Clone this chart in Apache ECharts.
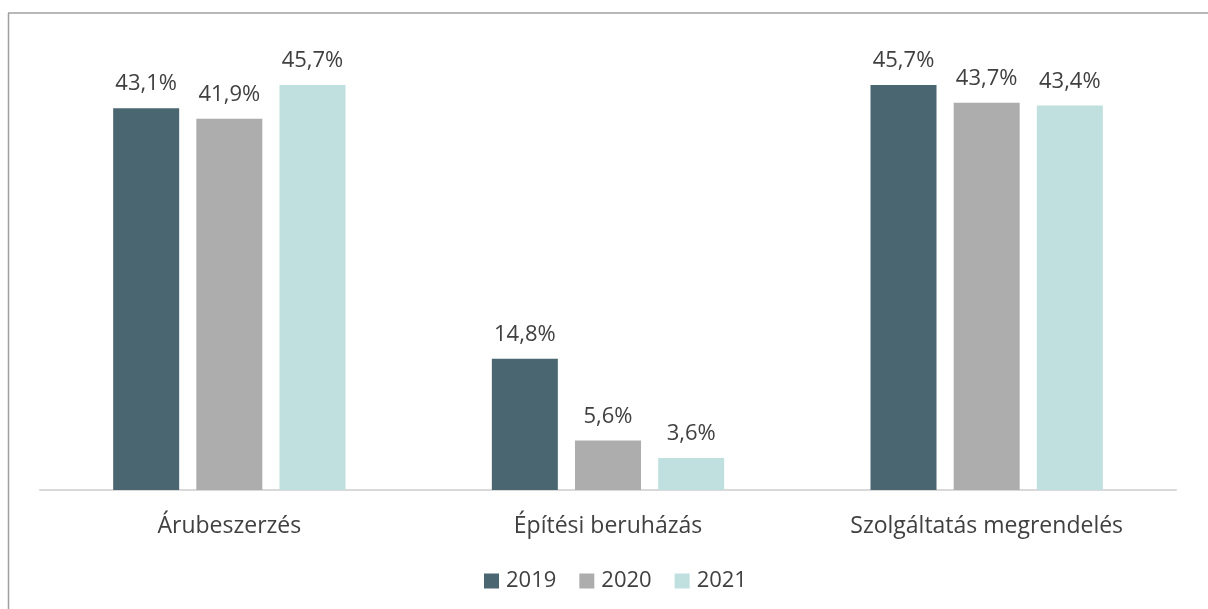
<!DOCTYPE html>
<html>
<head>
<meta charset="utf-8">
<script src="https://cdn.jsdelivr.net/npm/echarts@6/dist/echarts.min.js"></script>
<style>
html,body{margin:0;padding:0;background:#fff;}
#chart{width:1208px;height:609px;}
</style>
</head>
<body>
<div id="chart"></div>
<script>
const categories = ['Árubeszerzés', 'Építési beruházás', 'Szolgáltatás megrendelés'];
const seriesNames = ['2019', '2020', '2021'];
const values2019 = [43.1, 14.8, 45.7];
const values2020 = [41.9, 5.6, 43.7];
const values2021 = [45.7, 3.6, 43.4];
const colors = ['#4a6670', '#adadad', '#c0e0e0'];

const FONT = 'Open Sans';
const TXT = '#404040';
const dataSets = [values2019, values2020, values2021];

const chart = echarts.init(document.getElementById('chart'), null, {renderer: 'canvas'});
chart.setOption({
  animation: false,
  backgroundColor: '#fff',
  textStyle: {fontFamily: FONT},
  grid: {left: 40, right: 32, top: 47, bottom: 119, containLabel: false},
  legend: {
    data: seriesNames,
    left: 479,
    top: 565,
    itemWidth: 15,
    itemHeight: 15,
    itemGap: 23,
    icon: 'rect',
    textStyle: {fontFamily: FONT, fontSize: 22, color: TXT, padding: [0, 0, 0, 2]}
  },
  xAxis: {
    type: 'category',
    data: categories,
    axisLine: {lineStyle: {color: '#d9d9d9', width: 2}},
    axisTick: {show: false},
    axisLabel: {fontFamily: FONT, fontSize: 23, color: TXT, margin: 25}
  },
  yAxis: {
    type: 'value',
    min: 0,
    max: 50,
    show: false,
    splitLine: {show: false}
  },
  series: seriesNames.map((name, i) => ({
    name: name,
    type: 'bar',
    data: dataSets[i],
    barWidth: 66,
    barGap: '26%',
    itemStyle: {color: colors[i]},
    label: {
      show: true,
      position: 'top',
      distance: 13,
      fontFamily: FONT,
      fontSize: 22,
      color: TXT,
      formatter: p => p.value.toFixed(1).replace('.', ',') + '%'
    }
  })),
  graphic: [
    {type: 'line', shape: {x1: 8, y1: 13, x2: 1208, y2: 13}, style: {stroke: '#a0a0a0', lineWidth: 1.5}},
    {type: 'line', shape: {x1: 8.5, y1: 13, x2: 8.5, y2: 609}, style: {stroke: '#a0a0a0', lineWidth: 1.5}}
  ]
});
</script>
</body>
</html>
